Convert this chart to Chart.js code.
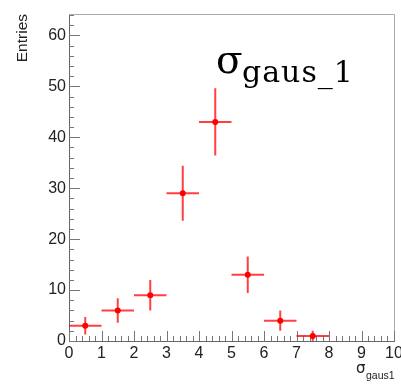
<!DOCTYPE html>
<html lang="en">
<head>
    <meta charset="UTF-8">
    <title>sigma gaus 1</title>
    <script src="https://cdn.jsdelivr.net/npm/chart.js"></script>
    <style>
        html, body { margin: 0; padding: 0; background: #fff; }
        #wrap { width: 401px; height: 384px; }
    </style>
</head>
<body>
    <div id="wrap"><canvas id="histChart"></canvas></div>

    <script>
        // histogram bins (centres), contents and errors
        const binCenters = [0.5, 1.5, 2.5, 3.5, 4.5, 5.5, 6.5, 7.5];
        const entries = [3, 6, 9, 29, 43, 13, 4, 1];
        const errY = [1.7, 2.4, 3, 5.4, 6.6, 3.6, 2, 1];
        const binHalfWidth = 0.5;
        const xTicks = [0, 1, 2, 3, 4, 5, 6, 7, 8, 9, 10];
        const yTicks = [0, 10, 20, 30, 40, 50, 60];

        const points = binCenters.map((x, i) => ({ x: x, y: entries[i] }));

        // ROOT-like frame: inner ticks + top/right frame lines
        const framePlugin = {
            id: 'frame',
            beforeDatasetsDraw(chart) {
                const ctx = chart.ctx;
                const a = chart.chartArea;
                const xs = chart.scales.x, ys = chart.scales.y;
                ctx.save();
                ctx.strokeStyle = '#aaa';
                ctx.lineWidth = 1;
                ctx.beginPath();
                ctx.moveTo(a.left, a.top + 0.5);
                ctx.lineTo(a.right + 0.5, a.top + 0.5);
                ctx.lineTo(a.right + 0.5, a.bottom);
                ctx.stroke();

                ctx.strokeStyle = '#777';
                ctx.beginPath();
                for (let v = 0; v <= 10.001; v += 0.2) {
                    const px = Math.round(xs.getPixelForValue(v)) + 0.5;
                    const major = Math.abs(v - Math.round(v)) < 0.01;
                    ctx.moveTo(px, a.bottom);
                    ctx.lineTo(px, a.bottom - (major ? 10 : 5));
                }
                for (let v = 0; v <= ys.max; v += 2) {
                    const py = Math.round(ys.getPixelForValue(v)) + 0.5;
                    const major = v % 10 === 0;
                    ctx.moveTo(a.left, py);
                    ctx.lineTo(a.left + (major ? 11 : 5), py);
                }
                ctx.stroke();
                ctx.restore();
            },
            afterDatasetsDraw(chart) {
                const ctx = chart.ctx;
                const xs = chart.scales.x, ys = chart.scales.y;
                ctx.save();
                ctx.strokeStyle = 'rgba(255, 0, 0, 0.75)';
                ctx.lineWidth = 2;
                ctx.beginPath();
                binCenters.forEach((x, i) => {
                    const y = entries[i];
                    const px = xs.getPixelForValue(x);
                    const py = ys.getPixelForValue(y);
                    ctx.moveTo(xs.getPixelForValue(x - binHalfWidth), py);
                    ctx.lineTo(xs.getPixelForValue(x + binHalfWidth), py);
                    ctx.moveTo(px, ys.getPixelForValue(y - errY[i]));
                    ctx.lineTo(px, ys.getPixelForValue(y + errY[i]));
                });
                ctx.stroke();

                // axis titles
                ctx.fillStyle = '#222';
                ctx.font = '15.5px "Liberation Sans", Arial, sans-serif';
                ctx.save();
                ctx.translate(27, chart.chartArea.top);
                ctx.rotate(-Math.PI / 2);
                ctx.textAlign = 'right';
                ctx.textBaseline = 'alphabetic';
                ctx.fillText('Entries', 0, 0);
                ctx.restore();

                ctx.textAlign = 'left';
                ctx.textBaseline = 'alphabetic';
                ctx.font = '15px "DejaVu Sans", sans-serif';
                ctx.fillText('σ', 356, 373);
                ctx.font = '10.5px "Liberation Sans", Arial, sans-serif';
                ctx.fillText('gaus1', 366, 379);

                // big label
                ctx.fillStyle = '#000';
                ctx.font = '39px "DejaVu Serif", serif';
                ctx.fillText('σ', 216, 73);
                ctx.font = '30px "DejaVu Serif", serif';
                ctx.letterSpacing = '1px';
                ctx.fillText('gaus_1', 242, 82);
                ctx.restore();
            }
        };

        const ctx = document.getElementById('histChart').getContext('2d');
        const chart = new Chart(ctx, {
            type: 'scatter',
            data: {
                datasets: [{
                    label: 'sigma_gaus1',
                    data: points,
                    backgroundColor: '#ff0000',
                    borderColor: '#ff0000',
                    pointRadius: 3,
                    pointBorderWidth: 0
                }]
            },
            options: {
                responsive: true,
                maintainAspectRatio: false,
                animation: false,
                layout: {
                    padding: { top: 14, right: 7, left: 0, bottom: 0 }
                },
                plugins: {
                    legend: { display: false },
                    tooltip: { enabled: false }
                },
                scales: {
                    x: {
                        type: 'linear',
                        min: 0,
                        max: 10,
                        afterBuildTicks: (scale) => { scale.ticks = xTicks.map(v => ({ value: v })); },
                        afterFit: (scale) => { scale.height = 43; scale.paddingLeft = 0; scale.paddingRight = 0; },
                        grid: { display: false, drawTicks: false },
                        border: { display: true, color: '#666', width: 1 },
                        ticks: {
                            color: '#222',
                            padding: 3,
                            maxRotation: 0,
                            autoSkip: false,
                            font: { family: '"Liberation Sans", Arial, sans-serif', size: 16 }
                        }
                    },
                    y: {
                        type: 'linear',
                        min: 0,
                        max: 64.2,
                        afterBuildTicks: (scale) => { scale.ticks = yTicks.map(v => ({ value: v })); },
                        afterFit: (scale) => { scale.width = 69; scale.paddingTop = 0; scale.paddingBottom = 0; },
                        grid: { display: false, drawTicks: false },
                        border: { display: true, color: '#666', width: 1 },
                        ticks: {
                            color: '#222',
                            padding: 3,
                            autoSkip: false,
                            font: { family: '"Liberation Sans", Arial, sans-serif', size: 16 }
                        }
                    }
                }
            },
            plugins: [framePlugin]
        });
    </script>
</body>
</html>
